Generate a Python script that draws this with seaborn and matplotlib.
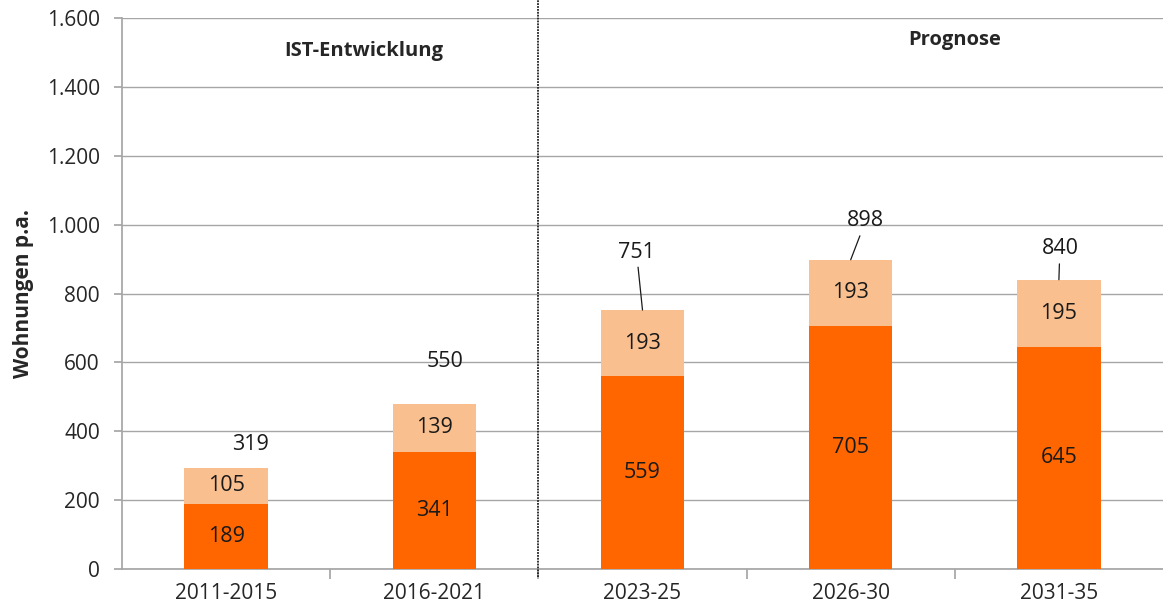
import matplotlib
matplotlib.use("Agg")
import matplotlib.pyplot as plt
import seaborn as sns
import pandas as pd
from matplotlib.ticker import FuncFormatter

categories = ["2011-2015", "2016-2021", "2023-25", "2026-30", "2031-35"]
base_values = [189, 341, 559, 705, 645]
top_values = [105, 139, 193, 193, 195]
total_labels = [319, 550, 751, 898, 840]
y_ticks = [0, 200, 400, 600, 800, 1000, 1200, 1400, 1600]

# label offsets (pixels) from bar top, and whether to draw a leader line
label_offsets = [(24, 23, False), (11, 42, False), (-6, 58, True), (15, 39, True), (1, 31, True)]

sns.set_theme(style="white")
plt.rcParams['font.family'] = ['Open Sans', 'DejaVu Sans']

df = pd.DataFrame({
    "cat": categories,
    "base": base_values,
    "top": top_values,
})
df["stack"] = df["base"] + df["top"]

fig = plt.figure(figsize=(11.63, 6.10), dpi=100)
ax = fig.add_axes([122/1163, 1 - 569/610, 1 - 122/1163, (569 - 18)/610])

grid_c = "#a6a6a6"
for t in y_ticks:
    ax.axhline(t, color=grid_c, lw=1.0, zorder=0)

sns.barplot(data=df, x="cat", y="stack", color="#F9BF8F", width=0.4, saturation=1, linewidth=0, ax=ax, zorder=2)
sns.barplot(data=df, x="cat", y="base", color="#FF6600", width=0.4, saturation=1, linewidth=0, ax=ax, zorder=3)

fs = 15.5
for i, (b, t) in enumerate(zip(base_values, top_values)):
    ax.text(i, b / 2, str(b), ha="center", va="center", fontsize=fs, color="#1a1a1a", zorder=5)
    ax.text(i, b + t / 2, str(t), ha="center", va="center", fontsize=fs, color="#1a1a1a", zorder=5)

px2pt = 72 / 100
for i, (lab, (dx, dy, line)) in enumerate(zip(total_labels, label_offsets)):
    top = base_values[i] + top_values[i]
    ap = dict(arrowstyle="-", color="#1a1a1a", lw=0.9, shrinkA=1, shrinkB=0) if line else None
    ax.annotate(str(lab), xy=(i, top), xytext=(dx * px2pt, dy * px2pt), textcoords="offset points",
                ha="center", va="center", fontsize=fs, color="#1a1a1a", arrowprops=ap, zorder=6)

ax.set_xlim(-0.5, 4.5)
ax.set_ylim(0, 1600)
ax.set_yticks(y_ticks)
ax.yaxis.set_major_formatter(FuncFormatter(lambda v, p: f"{int(v):,}".replace(",", ".")))
ax.tick_params(axis="y", labelsize=15, length=6, color=grid_c, direction="out", left=True, pad=10)

ax.set_xticks([0.5, 1.5, 2.5, 3.5])
ax.set_xticklabels([])
ax.set_xticks(range(len(categories)), minor=True)
ax.set_xticklabels(categories, minor=True)
ax.tick_params(axis="x", which="major", length=7, color=grid_c, direction="out", bottom=True)
ax.tick_params(axis="x", which="minor", length=0, labelsize=15, pad=10, bottom=True)

for s in ["top", "right"]:
    ax.spines[s].set_visible(False)
ax.spines["left"].set_color(grid_c)
ax.spines["bottom"].set_color(grid_c)

ax.axvline(1.5, ymin=-0.015, ymax=1.035, color="#222222", lw=1.3, ls=(0, (1, 0.6)), clip_on=False, zorder=4)

ax.set_xlabel("")
ax.set_ylabel("Wohnungen p.a.", fontsize=15, fontweight="bold", va="center")
ax.yaxis.set_label_coords((24 - 122) / 1041, 0.5)

ax.text(0.66, 1505, "IST-Entwicklung", ha="center", va="center", fontsize=14.5, fontweight="bold")
ax.text(3.5, 1535, "Prognose", ha="center", va="center", fontsize=14.5, fontweight="bold")

fig.savefig("out.png", dpi=100)
